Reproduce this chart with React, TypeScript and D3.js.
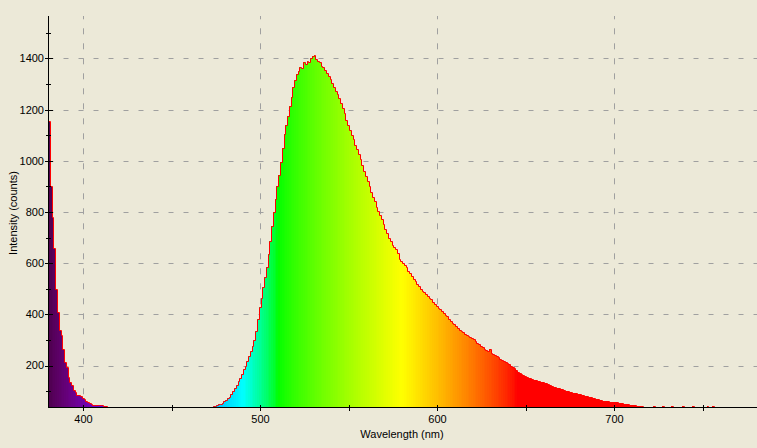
import React from 'react';
import * as d3 from 'd3';

// ---- data ----
const START_NM = 380; // first 1-nm bin starts here
const COUNTS: number[] = [
  1155, 900, 780, 660, 500, 410, 340, 318, 265, 215,
  194, 155, 135, 122, 106, 98, 86, 84, 80, 72,
  68, 63, 56, 52, 49, 47, 46, 45, 45, 45,
  44, 42, 40, 39, 30, 28, 27, 26, 25, 25,
  24, 25, 23, 24, 25, 24, 23, 24, 25, 24,
  24, 23, 24, 25, 24, 23, 24, 24, 25, 24,
  24, 25, 24, 23, 24, 25, 24, 24, 25, 24,
  25, 24, 24, 25, 24, 25, 25, 24, 25, 26,
  26, 25, 26, 27, 26, 27, 28, 28, 29, 30,
  31, 33, 37, 40, 42, 45, 48, 51, 55, 60,
  66, 72, 78, 88, 100, 112, 125, 140, 153, 165,
  185, 200, 218, 238, 255, 275, 300, 335, 380, 430,
  465, 505, 545, 585, 635, 685, 745, 800, 850, 900,
  945, 995, 1050, 1105, 1140, 1175, 1215, 1250, 1290, 1315,
  1338, 1352, 1368, 1362, 1385, 1378, 1392, 1388, 1400, 1410,
  1415, 1398, 1390, 1385, 1372, 1368, 1355, 1345, 1330, 1318,
  1305, 1290, 1272, 1262, 1245, 1225, 1205, 1185, 1160, 1140,
  1122, 1100, 1085, 1062, 1048, 1025, 1008, 985, 960, 940,
  922, 900, 880, 858, 842, 820, 805, 790, 772, 752,
  735, 718, 700, 685, 672, 663, 655, 640, 618, 608,
  600, 593, 585, 570, 560, 550, 540, 530, 520, 510,
  500, 492, 487, 478, 472, 465, 460, 450, 442, 432,
  425, 420, 412, 405, 398, 392, 380, 375, 368, 362,
  355, 348, 340, 335, 330, 325, 320, 315, 312, 308,
  304, 296, 290, 283, 278, 272, 266, 262, 258, 266,
  250, 247, 243, 238, 232, 227, 222, 217, 212, 208,
  205, 200, 195, 190, 182, 175, 170, 166, 162, 158,
  155, 152, 150, 147, 145, 143, 140, 138, 136, 134,
  132, 130, 127, 124, 120, 117, 115, 113, 111, 110,
  108, 105, 102, 100, 98, 96, 94, 92, 91, 90,
  88, 86, 84, 82, 80, 78, 76, 74, 72, 70,
  68, 66, 64, 63, 62, 61, 60, 59, 58, 58,
  57, 56, 55, 54, 52, 51, 50, 49, 47, 46,
  45, 44, 43, 42, 41, 40, 39, 38, 37, 36,
  38, 36, 40, 34, 33, 35, 33, 40, 31, 30,
  31, 30, 40, 30, 29, 31, 30, 29, 40, 30,
  29, 30, 28, 29, 40, 28, 30, 29, 28, 27,
  28, 27, 40, 26, 27, 40, 28, 25, 26, 25,
  25, 25, 25, 25, 25, 25, 25, 25, 25, 25,
  25, 25, 25, 25, 25, 25, 25, 25, 25, 25,
];
const X_DOMAIN = [380.2, 780.5];
const Y_DOMAIN = [36, 1566];
const X_MAJOR = [400, 500, 600, 700];
const X_MINOR = [450, 550, 650, 750];
const Y_MAJOR = [200, 400, 600, 800, 1000, 1200, 1400];
const Y_MINOR = [100, 300, 500, 700, 900, 1100, 1300, 1500];
const X_TITLE = 'Wavelength (nm)';
const Y_TITLE = 'Intensity (counts)';

// ---- layout ----
const W = 757;
const H = 448;
const LEFT = 48.5;
const RIGHT = 757;
const TOP = 16;
const BOTTOM = 407.5;
const BG = '#ECE9D8';
const GRID = '#A0A0A0';
const FONT = '"Liberation Sans", Arial, sans-serif';

function spectrumColor(w: number): string {
  let r = 0, g = 0, b = 0;
  if (w < 440) { r = -(w - 440) / 60; b = 1; }
  else if (w < 490) { g = (w - 440) / 50; b = 1; }
  else if (w < 510) { g = 1; b = -(w - 510) / 20; }
  else if (w < 580) { r = (w - 510) / 70; g = 1; }
  else if (w < 645) { r = 1; g = -(w - 645) / 65; }
  else { r = 1; }
  let f = 1;
  if (w < 420) f = 0.3 + 0.7 * (w - 380) / 40;
  const gamma = w < 440 ? 1 : 0.8;
  const c = (v: number) => (v <= 0 ? 0 : Math.round(255 * Math.pow(v * f, gamma)));
  return `rgb(${c(r)},${c(g)},${c(b)})`;
}

export default function App() {
  const x = d3.scaleLinear().domain(X_DOMAIN).range([LEFT, RIGHT]);
  const y = d3.scaleLinear().domain(Y_DOMAIN).range([BOTTOM, TOP]);
  const yc = (v: number) => y(Math.max(v, Y_DOMAIN[0]));

  const bins = COUNTS.map((c, i) => ({ w0: START_NM + i, w1: START_NM + i + 1, c }));
  const pts: [number, number][] = bins.map((b) => [Math.round(x(b.w0)) + 0.5, Math.round(yc(b.c)) + 0.5]);
  const last = bins[bins.length - 1];
  pts.push([Math.round(x(last.w1)) + 0.5, Math.round(yc(last.c)) + 0.5]);
  const linePath = d3.line().curve(d3.curveStepAfter)(pts) || '';

  return (
    <svg
      width={W}
      height={H}
      style={{ position: 'absolute', left: 0, top: 0, display: 'block' }}
      fontFamily={FONT}
    >
      <defs>
        <clipPath id="plot">
          <rect x={LEFT} y={TOP} width={RIGHT - LEFT} height={BOTTOM - TOP + 0.5} />
        </clipPath>
      </defs>
      <rect x={0} y={0} width={W} height={H} fill={BG} />

      {/* grid */}
      {Y_MAJOR.map((v) => (
        <line key={'gy' + v} x1={LEFT} x2={RIGHT} y1={Math.round(y(v)) + 0.5} y2={Math.round(y(v)) + 0.5}
          stroke={GRID} strokeWidth={1} strokeDasharray="5,10" />
      ))}
      {X_MAJOR.map((v) => (
        <line key={'gx' + v} x1={Math.floor(x(v)) + 0.5} x2={Math.floor(x(v)) + 0.5} y1={TOP} y2={BOTTOM}
          stroke={GRID} strokeWidth={1} strokeDasharray="6,9" strokeDashoffset={2.7} />
      ))}

      {/* spectrum bars */}
      <g clipPath="url(#plot)">
        <g shapeRendering="crispEdges">
          {bins.map((b) => {
            const x0 = Math.round(x(b.w0));
            const x1 = Math.round(x(b.w1));
            const yt = Math.round(yc(b.c));
            if (yt >= BOTTOM) return null;
            return (
              <rect key={b.w0} x={x0} y={yt} width={x1 - x0} height={BOTTOM - yt}
                fill={spectrumColor(b.w0 + 0.5)} />
            );
          })}
        </g>
        <path d={linePath} fill="none" stroke="#FF0000" strokeWidth={1} strokeLinecap="square" />
      </g>

      {/* axes */}
      <g shapeRendering="crispEdges" stroke="#000">
        <line x1={LEFT} x2={LEFT} y1={TOP} y2={BOTTOM} strokeWidth={1} />
        <line x1={LEFT} x2={RIGHT} y1={BOTTOM} y2={BOTTOM} strokeWidth={1} />
        {Y_MAJOR.map((v) => (
          <line key={'ty' + v} x1={45} x2={53} y1={Math.round(y(v)) + 0.5} y2={Math.round(y(v)) + 0.5} />
        ))}
        {Y_MINOR.map((v) => (
          <line key={'tym' + v} x1={46} x2={51} y1={Math.round(y(v)) + 0.5} y2={Math.round(y(v)) + 0.5} />
        ))}
        {[...X_MAJOR, ...X_MINOR].map((v) => (
          <line key={'tx' + v} x1={Math.floor(x(v)) + 0.5} x2={Math.floor(x(v)) + 0.5} y1={405} y2={411} />
        ))}
      </g>

      {/* tick labels */}
      {Y_MAJOR.map((v) => (
        <text key={'ly' + v} x={44} y={y(v)} dy="0.35em" textAnchor="end" fontSize={11} fill="#000">
          {v}
        </text>
      ))}
      {X_MAJOR.map((v) => (
        <text key={'lx' + v} x={x(v)} y={423} textAnchor="middle" fontSize={11} fill="#000">
          {v}
        </text>
      ))}

      {/* titles */}
      <text x={402} y={438} textAnchor="middle" fontSize={11} fill="#000">{X_TITLE}</text>
      <text transform="translate(17,213) rotate(-90)" textAnchor="middle" fontSize={11} fill="#000">
        {Y_TITLE}
      </text>
    </svg>
  );
}
